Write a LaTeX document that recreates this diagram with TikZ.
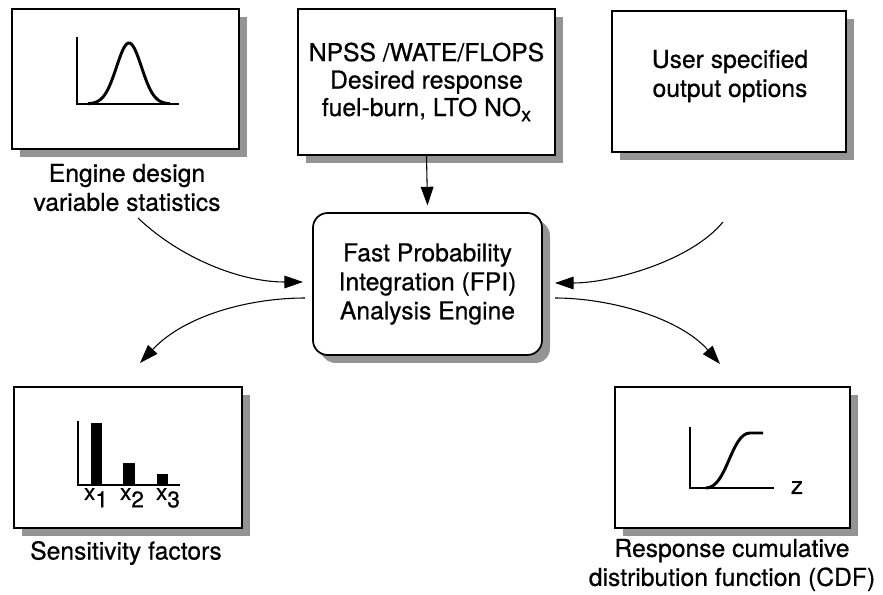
\documentclass[tikz,border=0pt]{standalone}
\usepackage{fontspec}
\setmainfont{TeX Gyre Heros}[FakeBold=0.6]
\usetikzlibrary{arrows.meta,shadows}
\newcommand\dnsub[1]{\raisebox{-5.5pt}{#1}}
\newcommand\smsub[1]{\raisebox{-4pt}{\fontsize{15}{15}\selectfont #1}}
\begin{document}
\begin{tikzpicture}[x=0.75pt,y=-0.75pt,
  box/.style={draw, line width=1.3pt, fill=white, inner sep=0pt,
    drop shadow={shadow xshift=6pt,shadow yshift=-6pt,fill=black!42,opacity=1}},
  cbox/.style={box, rounded corners=11pt,
    drop shadow={shadow xshift=4.5pt,shadow yshift=-4.5pt,fill=black!42,opacity=1}},
  lbl/.style={font=\fontsize{18.5}{21.75}\selectfont, align=center, inner sep=0pt},
  tlbl/.style={font=\fontsize{18.5}{20.6}\selectfont, align=center, inner sep=0pt},
  arr/.style={line width=0.8pt, -{Triangle[length=14pt,width=9.5pt]}},
  axis/.style={line width=1.1pt},
  curve/.style={line width=2.2pt},
]
\useasboundingbox (0,0) rectangle (883,595);

% boxes
\node[box, minimum width=170.25pt, minimum height=105pt] (tl) at (125.5,79) {};
\node[box, minimum width=192.75pt, minimum height=109.5pt, tlbl] (tm) at (426.5,82)
  {NPSS /WATE/FLOPS\\Desired response\\fuel-burn, LTO NO\smsub{x}};
\node[box, minimum width=175.5pt, minimum height=105.75pt] (tr) at (729,81.5) {};
\node[lbl] (trt) at (730,76) {User specified\\output options};
\node[cbox, minimum width=171.75pt, minimum height=106.5pt, lbl] (ctr) at (427.5,284)
  {Fast Probability\\Integration (FPI)\\Analysis Engine};
\node[box, minimum width=171pt, minimum height=105.75pt] (bl) at (128,457.5) {};
\node[box, minimum width=176.25pt, minimum height=105.75pt] (br) at (732.5,457.5) {};

% labels
\node[lbl] (tll) at (127,187.5) {Engine design\\variable statistics};
\node[lbl] (bll) at (126,553) {Sensitivity factors};
\node[lbl] (brl) at (732,565) {Response cumulative\\distribution function (CDF)};

% gaussian plot
\draw[axis] (77,37) -- (77,104) -- (179,104);
\draw[curve] plot[domain=88:170, samples=70, smooth]
  (\x, {104-61*exp(-(\x-129)*(\x-129)/312.5)});

% bar chart
\draw[axis] (78,421) -- (78,485) -- (180,485);
\fill (91,423) rectangle (102,485);
\fill (123,463) rectangle (135,485);
\fill (157,474) rectangle (168,485);
\node[lbl, font=\fontsize{17}{17}\selectfont, anchor=base] (x1) at (96,500) {x\dnsub{1}};
\node[lbl, font=\fontsize{17}{17}\selectfont, anchor=base] (x2) at (132,500) {x\dnsub{2}};
\node[lbl, font=\fontsize{17}{17}\selectfont, anchor=base] (x3) at (168,500) {x\dnsub{3}};

% cdf plot
\draw[axis] (690,427) -- (690,488) -- (774,488);
\draw[curve] (706,488) .. controls (727,488) and (731,433) .. (750,433) -- (763,433);
\node[lbl, anchor=base] (z) at (797,494) {z};

% connector end points
\coordinate (s1) at (138,218);
\coordinate (e1) at (303,282);
\coordinate (s2) at (305,298);
\coordinate (e2) at (140,363);
\coordinate (s3) at (723,222);
\coordinate (e3) at (555,283);
\coordinate (s4) at (555,298);
\coordinate (e4) at (720,364);

% connectors
\draw[arr] (tm.south) -- ([yshift=5pt]ctr.north);
\draw[arr] (s1) .. controls (180,258) and (240,282) .. (e1);
\draw[arr] (s2) .. controls (250,298) and (185,315) .. (e2);
\draw[arr] (s3) .. controls (690,262) and (610,283) .. (e3);
\draw[arr] (s4) .. controls (610,298) and (680,318) .. (e4);
\end{tikzpicture}
\end{document}
